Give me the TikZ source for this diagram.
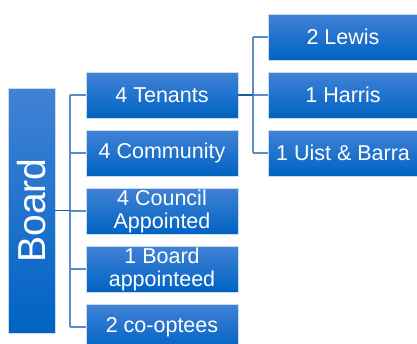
\documentclass[tikz,border=0pt]{standalone}
\usepackage{fontspec}
\setmainfont{Liberation Sans}
\definecolor{boxtop}{HTML}{4182D6}
\definecolor{boxbot}{HTML}{0063C3}
\definecolor{boxedge}{HTML}{C9DDF2}
\definecolor{trunkblue}{HTML}{15609F}
\definecolor{branchblue}{HTML}{5A8DC6}
\begin{document}
\begin{tikzpicture}[x=1pt,y=-1pt,
  unit/.style={rectangle, draw=boxedge, line width=0.6pt,
    top color=boxtop, bottom color=boxbot, text=white,
    font=\fontsize{21.5}{23}\selectfont, align=center, inner sep=0pt,
    minimum width=152pt, minimum height=46pt},
  area/.style={unit, minimum width=150pt},
  trunk/.style={draw=trunkblue, line width=1.4pt},
  branch/.style={draw=branchblue, line width=1.4pt}]
\useasboundingbox (0,0) rectangle (417,343);
% the board itself
\node[unit, minimum width=47pt, minimum height=245pt] (board) at (31.5,210.5)
  {\rotatebox{90}{\fontsize{39}{41}\selectfont Board}};
% member groups
\node[unit] (tenants)   at (162,95)  {4 Tenants};
\node[unit] (community) at (162,153) {4 Community};
\node[unit] (council)   at (162,211) {4 Council\\Appointed};
\node[unit] (boardapp)  at (162,269) {1 Board\\appointeed};
\node[unit] (coopt)     at (162,327) {2 co-optees};
% tenant areas
\node[area] (lewis)  at (343,37)  {2 Lewis};
\node[area] (harris) at (343,95)  {1 Harris};
\node[area] (uist)   at (343,153) {1 Uist \& Barra};
% board to member groups
\coordinate (busL) at (70,210.5);
\draw[branch] (busL |- tenants.west) -- (busL |- coopt.west);
\foreach \n in {tenants,community,council,boardapp,coopt}
  \draw[branch] (busL |- \n.west) -- (\n.west);
\draw[trunk] (board.east) -- (busL);
% tenants to areas
\coordinate (busR) at (253,95);
\draw[branch] (busR |- lewis.west) -- (busR |- uist.west);
\foreach \n in {lewis,harris,uist}
  \draw[branch] (busR |- \n.west) -- (\n.west);
\draw[trunk] (tenants.east) -- (busR);
\end{tikzpicture}
\end{document}
